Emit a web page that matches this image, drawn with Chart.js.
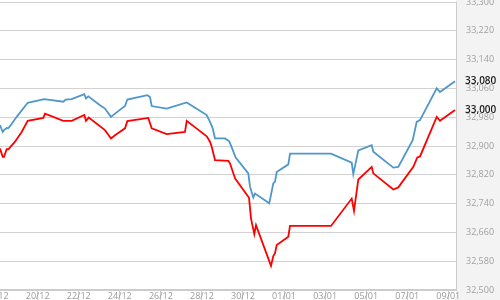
<!DOCTYPE html>
<html><head><meta charset="utf-8">
<script src="https://cdn.jsdelivr.net/npm/chart.js@4"></script>
<style>html,body{margin:0;padding:0;background:#fff}#wrap{width:500px;height:300px}</style>
</head><body><div id="wrap"><canvas id="c" width="500" height="300"></canvas></div>
<script>
// Day offsets are days after 18/12
const xTickDays = [0,2,4,6,8,10,12,14,16,18,20,22];
const xTickLabels = ['18/12','20/12','22/12','24/12','26/12','28/12','30/12','01/01','03/01','05/01','07/01','09/01'];

const blueDays = [0.164,0.296,0.359,0.490,0.554,0.651,0.977,1.513,1.771,2.322,3.247,3.364,3.656,4.270,4.353,4.465,5.035,5.278,5.571,5.766,6.253,6.365,7.339,7.470,7.553,8.284,9.258,10.232,10.393,10.524,10.637,11.124,11.333,11.645,12.259,12.341,12.502,12.585,13.281,13.476,13.559,13.642,14.207,14.290,16.287,17.295,17.373,17.617,18.269,18.347,19.322,19.565,20.266,20.461,20.622,21.436,21.596,22.327];
const blueValues = [32958,32939,32944,32950,32949,32955,32981,33020,33023,33030,33023,33029,33030,33044,33032,33038,33013,33004,32981,32990,33011,33029,33041,33036,33011,33004,33021,32986,32967,32949,32921,32921,32913,32868,32824,32787,32757,32768,32741,32796,32801,32828,32849,32879,32879,32854,32822,32888,32902,32884,32840,32842,32916,32967,32972,33060,33050,33080];

const redDays = [0.164,0.296,0.359,0.490,0.568,0.895,1.221,1.513,2.273,2.356,3.247,3.656,4.270,4.353,4.485,5.278,5.571,5.766,6.253,6.365,7.388,7.553,8.284,9.175,9.258,10.232,10.393,10.476,10.637,11.285,11.367,11.611,12.293,12.390,12.473,12.551,12.634,13.364,13.476,13.559,13.642,14.207,14.290,16.287,17.295,17.407,17.617,18.269,18.347,19.322,19.565,20.295,20.490,20.622,21.436,21.596,22.327];
const redValues = [32893,32870,32870,32891,32891,32912,32939,32970,32978,32990,32970,32970,32986,32970,32979,32944,32921,32930,32949,32969,32978,32949,32933,32939,32970,32927,32912,32898,32861,32859,32852,32810,32756,32699,32676,32655,32680,32567,32594,32602,32625,32648,32678,32678,32754,32720,32807,32842,32824,32779,32785,32842,32868,32871,32981,32970,33000];

const yMin = 32500, yMax = 33300, yStep = 80;
const xMin = 0.164, xMax = 22.375;

const BLUE = '#4f97c9', RED = '#ff0000';
const FONT = "'Open Sans', 'Liberation Sans', sans-serif";

const toPts = (xs, ys) => xs.map((x, i) => ({x: x, y: ys[i]}));
const zeroPad = (s) => { s.paddingTop = 0; s.paddingBottom = 0; s.paddingLeft = 0; s.paddingRight = 0; };

const bgPlugin = {
  id: 'bg',
  beforeDraw(chart) {
    const {ctx, chartArea} = chart;
    ctx.save();
    ctx.fillStyle = '#ffffff';
    ctx.fillRect(0, 0, chart.width, chart.height);
    ctx.fillStyle = '#f3f3f3';
    ctx.fillRect(chartArea.right, 0, chart.width - chartArea.right, chart.height);
    ctx.restore();
  }
};

const lastLabelPlugin = {
  id: 'lastLabel',
  afterDraw(chart) {
    const {ctx, chartArea} = chart;
    const ys = chart.scales.y;
    ctx.save();
    ctx.font = "600 10px " + FONT;
    ctx.fillStyle = '#1a1a1a';
    ctx.textAlign = 'left';
    ctx.textBaseline = 'middle';
    chart.data.datasets.forEach(ds => {
      const v = ds.data[ds.data.length - 1].y;
      ctx.fillText(v.toLocaleString('en-US'), chartArea.right + 9, ys.getPixelForValue(v));
    });
    ctx.restore();
  }
};

new Chart(document.getElementById('c'), {
  type: 'line',
  data: {
    datasets: [
      {data: toPts(blueDays, blueValues), borderColor: BLUE, borderWidth: 1.8, pointRadius: 0, tension: 0, fill: false},
      {data: toPts(redDays, redValues), borderColor: RED, borderWidth: 1.8, pointRadius: 0, tension: 0, fill: false}
    ]
  },
  options: {
    responsive: false,
    animation: false,
    devicePixelRatio: 1,
    layout: {autoPadding: false, padding: {top: 2, left: 0, right: 0, bottom: 0}},
    plugins: {legend: {display: false}, tooltip: {enabled: false}},
    scales: {
      x: {
        type: 'linear',
        min: xMin, max: xMax,
        afterBuildTicks(scale) { scale.ticks = xTickDays.map(v => ({value: v})); },
        afterFit(scale) { scale.height = 10; zeroPad(scale); },
        grid: {display: true, drawOnChartArea: false, drawTicks: true, tickLength: 10, color: '#cccccc'},
        border: {display: true, color: '#cccccc', width: 2},
        ticks: {
          autoSkip: false, maxRotation: 0, padding: -9,
          color: '#9a9a9a', font: {family: FONT, size: 9},
          callback: (v) => { const i = xTickDays.indexOf(v); return i >= 0 ? xTickLabels[i] : ''; }
        }
      },
      y: {
        position: 'right',
        min: yMin, max: yMax,
        afterFit(scale) { scale.width = 44; zeroPad(scale); },
        grid: {color: '#d2d2d2', drawTicks: false, lineWidth: 1},
        border: {display: true, color: '#cccccc', width: 1},
        ticks: {
          stepSize: yStep, padding: 10,
          color: '#a0a0a0', font: {family: FONT, size: 9},
          callback: (v) => v.toLocaleString('en-US')
        }
      }
    }
  },
  plugins: [bgPlugin, lastLabelPlugin]
});
</script>
</body></html>
